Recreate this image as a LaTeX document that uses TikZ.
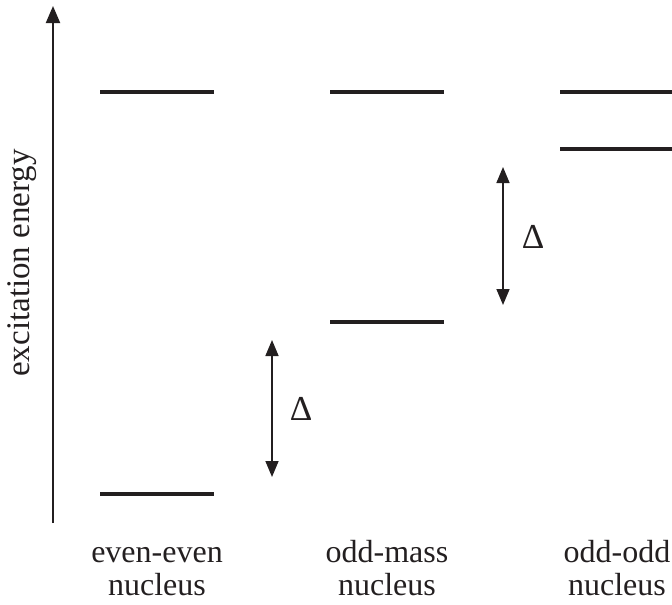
\documentclass[tikz,border=0pt]{standalone}
\usepackage{fontspec}
\setmainfont{Liberation Serif}
\usetikzlibrary{arrows.meta}
\definecolor{ink}{HTML}{231F20}
\tikzset{
  level/.style={draw=ink, line width=3.6pt},
  gap/.style={draw=ink, line width=1.6pt, {Triangle[length=16pt 0 0,width=13pt 0 0]}-{Triangle[length=16pt 0 0,width=13pt 0 0]}},
  axis/.style={draw=ink, line width=2pt, -{Triangle[length=17pt 0 0,width=14pt 0 0]}},
  lab/.style={text=ink, font=\fontsize{32}{34}\selectfont, align=center, inner sep=0pt},
  ylabst/.style={text=ink, font=\fontsize{33}{35}\selectfont, inner sep=0pt},
  dlab/.style={text=ink, font=\fontsize{35}{37}\selectfont, inner sep=0pt},
}
\begin{document}
\begin{tikzpicture}[x=1pt,y=-1pt]
\useasboundingbox (0,0) rectangle (672,605);
% axis
\coordinate (ab) at (53,523);
\coordinate (at) at (53,6);
\draw[axis] (ab) -- (at);
\node[ylabst, rotate=90] (ylab) at (22,263) {excitation energy};
% levels
\coordinate (e1a) at (100,92);  \coordinate (e1b) at (214,92);
\coordinate (e0a) at (100,494); \coordinate (e0b) at (214,494);
\coordinate (m1a) at (330,92);  \coordinate (m1b) at (444,92);
\coordinate (m0a) at (330,322); \coordinate (m0b) at (444,322);
\coordinate (o1a) at (560,92);  \coordinate (o1b) at (672,92);
\coordinate (o0a) at (560,149); \coordinate (o0b) at (672,149);
\draw[level] (e1a) -- (e1b);
\draw[level] (e0a) -- (e0b);
\draw[level] (m1a) -- (m1b);
\draw[level] (m0a) -- (m0b);
\draw[level] (o1a) -- (o1b);
\draw[level] (o0a) -- (o0b);
% gaps
\coordinate (g1t) at (272,340); \coordinate (g1b) at (272,477);
\coordinate (g2t) at (503,167); \coordinate (g2b) at (503,305);
\draw[gap] (g1t) -- (g1b);
\draw[gap] (g2t) -- (g2b);
\node[dlab] (d1) at (301,409) {Δ};
\node[dlab] (d2) at (533,237) {Δ};
% labels
\node[lab, anchor=base] (l1) at (157,562) {even-even};
\node[lab, anchor=base] (l1b) at (157,595) {nucleus};
\node[lab, anchor=base] (l2) at (387,562) {odd-mass};
\node[lab, anchor=base] (l2b) at (387,595) {nucleus};
\node[lab, anchor=base] (l3) at (617,562) {odd-odd};
\node[lab, anchor=base] (l3b) at (617,595) {nucleus};
\end{tikzpicture}
\end{document}
